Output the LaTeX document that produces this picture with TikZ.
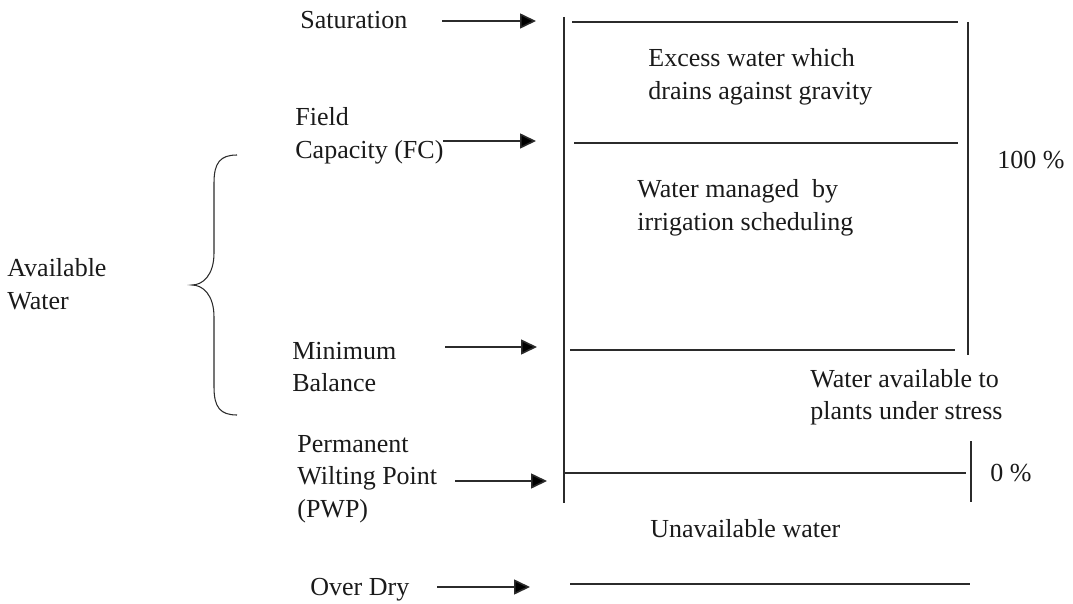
\documentclass[tikz,border=0pt]{standalone}
\usepackage{fontspec}
\setmainfont{Liberation Serif}
\usetikzlibrary{arrows.meta}

\definecolor{lineC}{HTML}{2B2B2B}
\definecolor{textC}{HTML}{1A1A1A}

\begin{document}
\begin{tikzpicture}[
  lbl/.style={font=\fontsize{14.8pt}{18.5pt}\selectfont, text=textC, anchor=west,
              align=left, inner sep=0pt},
  lvl/.style={draw=lineC, line width=0.9pt},
  arr/.style={draw=lineC, line width=0.9pt, -{Triangle[length=0.32cm, width=0.30cm, fill=black]}},
]
\useasboundingbox (0,0) rectangle (21.46,12.06);

% level lines: y / x from / x to
\foreach \ya/\xa/\xb in {11.62/11.44/19.16, 9.20/11.48/19.16, 5.06/11.40/19.10,
                         2.60/11.30/19.32, 0.38/11.40/19.40}
  \draw[lvl] (\xa,\ya) -- (\xb,\ya);

% verticals (left frame, 100 % bar, 0 % bar)
\draw[lvl] (11.28,11.72) -- (11.28,2.00);
\draw[lvl] (19.36,11.62) -- (19.36,4.96);
\draw[lvl] (19.42,3.24) -- (19.42,2.02);

% --- level names ---
\node[lbl] (sat) at (6.00,11.66) {Saturation};
\node[lbl] (fc) at (5.90,9.34) {Field\\Capacity (FC)};
\node[lbl] (minbal) at (5.84,4.72) {Minimum\\Balance};
\node[lbl] (pwp) at (5.94,2.48) {Permanent\\Wilting Point\\(PWP)};
\node[lbl] (dry) at (6.20,0.26) {Over Dry};

% arrows towards the levels
\foreach \n/\ya/\xa/\xb in {sat/11.64/8.84/10.72, fc/9.24/8.86/10.72, minbal/5.12/8.90/10.74,
                            pwp/2.44/9.10/10.94, dry/0.32/8.74/10.60} {
  \coordinate (\n A) at (\xa,\ya);
  \coordinate (\n B) at (\xb,\ya);
  \draw[arr] (\n A) -- (\n B);
}

% --- available water brace ---
\node[lbl] (avail) at (0.14,6.38) {Available\\Water};
\draw[lvl, line width=0.6pt] (4.74,8.96) .. controls (4.40,8.96) and (4.28,8.80) .. (4.28,8.40)
  -- (4.28,7.00) .. controls (4.28,6.55) and (4.05,6.36) .. (3.84,6.36)
  .. controls (4.05,6.36) and (4.28,6.17) .. (4.28,5.72)
  -- (4.28,4.32) .. controls (4.28,3.92) and (4.40,3.76) .. (4.74,3.76);

% --- zones ---
\node[lbl] (excess) at (12.96,10.52) {Excess water which\\drains against gravity};
\node[lbl] (managed) at (12.74,7.90) {Water managed\ \ by\\irrigation scheduling};
\node[lbl] (stress) at (16.20,4.12) {Water available to\\plants under stress};
\node[lbl] (unavail) at (13.00,1.48) {Unavailable water};

% percentages
\node[lbl] (full) at (19.94,8.86) {100 \%};
\node[lbl] (zero) at (19.80,2.60) {0 \%};
\end{tikzpicture}
\end{document}
